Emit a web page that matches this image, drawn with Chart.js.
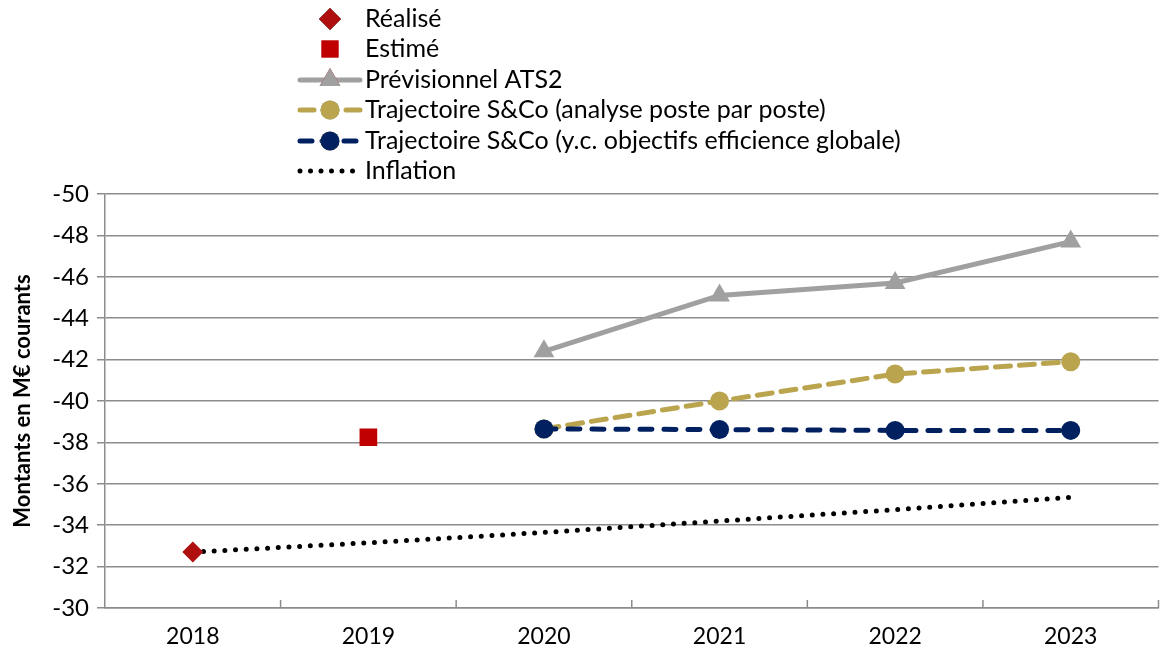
<!DOCTYPE html>
<html>
<head>
<meta charset="utf-8">
<script src="https://cdn.jsdelivr.net/npm/chart.js@4"></script>
<style>
  html, body { margin: 0; padding: 0; background: #fff; }
  #wrap { width: 1171px; height: 657px; }
</style>
</head>
<body>
<div id="wrap"><canvas id="chart" width="1171" height="657"></canvas></div>
<script>
const years = ['2018', '2019', '2020', '2021', '2022', '2023'];
const realise = [-32.7, null, null, null, null, null];
const estime = [null, -38.25, null, null, null, null];
const previsionnel = [null, null, -42.4, -45.1, -45.7, -47.7];
const trajPoste = [null, null, -38.65, -40.0, -41.3, -41.9];
const trajGlobale = [null, null, -38.65, -38.62, -38.58, -38.58];
const inflation = [-32.7, -33.15, -33.65, -34.2, -34.75, -35.35];
const yTicks = [-50, -48, -46, -44, -42, -40, -38, -36, -34, -32, -30];

const FONT = 'Lato, "Open Sans", sans-serif';
const GRID = '#8c8c8c';

// Legend drawn above the plot, styles taken from the datasets
const legendPlugin = {
    id: 'customLegend',
    afterDraw(chart) {
        const ctx = chart.ctx;
        const rows = [19, 49, 80, 110, 141, 171];
        const lx0 = 300, lx1 = 360, textX = 365;
        chart.data.datasets.forEach((ds) => {
            const y = rows[ds.legendRow];
            ctx.save();
            if (ds.showLine !== false) {
                ctx.beginPath();
                ctx.strokeStyle = ds.borderColor;
                ctx.lineWidth = ds.borderWidth;
                ctx.lineCap = ds.borderCapStyle || 'round';
                ctx.setLineDash(ds.legendDash || []);
                ctx.moveTo(lx0, y);
                ctx.lineTo(lx1, y);
                ctx.stroke();
            }
            ctx.restore();
            if (ds.pointRadius > 0) {
                Chart.helpers.drawPoint(ctx, {
                    pointStyle: ds.pointStyle,
                    radius: ds.legendRadius || ds.pointRadius,
                    borderWidth: 0,
                    rotation: 0
                }, (lx0 + lx1) / 2, y);
                ctx.fillStyle = ds.backgroundColor;
                ctx.fill();
            }
            ctx.save();
            ctx.fillStyle = '#000';
            ctx.font = '25px ' + FONT;
            ctx.textBaseline = 'middle';
            ctx.fillText(ds.label, textX, y);
            ctx.restore();
        });
    }
};

// Small x tick marks pointing up into the plot, between categories
const xTickPlugin = {
    id: 'xTicksInside',
    afterDatasetsDraw(chart) {
        const x = chart.scales.x;
        const ctx = chart.ctx;
        const bottom = chart.chartArea.bottom;
        const step = x.getPixelForValue(1) - x.getPixelForValue(0);
        ctx.save();
        ctx.strokeStyle = GRID;
        ctx.lineWidth = 1.5;
        for (let i = 0; i < years.length; i++) {
            const px = x.getPixelForValue(i) + step / 2;
            ctx.beginPath();
            ctx.moveTo(px, bottom);
            ctx.lineTo(px, bottom - 8);
            ctx.stroke();
        }
        ctx.restore();
    }
};

const ctx = document.getElementById('chart').getContext('2d');
new Chart(ctx, {
    type: 'line',
    data: {
        labels: years,
        datasets: [
            {
                label: 'Réalisé',
                legendRow: 0,
                data: realise,
                showLine: false,
                pointStyle: 'rectRot',
                pointRadius: 10.5,
                legendRadius: 11,
                backgroundColor: '#B00F0F',
                borderColor: '#B00F0F',
                borderWidth: 0,
                order: 0
            },
            {
                label: 'Estimé',
                legendRow: 1,
                data: estime,
                showLine: false,
                pointStyle: 'rect',
                pointRadius: 12.5,
                legendRadius: 12,
                backgroundColor: '#C00000',
                borderColor: '#C00000',
                borderWidth: 0,
                order: 1
            },
            {
                label: 'Prévisionnel ATS2',
                legendRow: 2,
                data: previsionnel,
                pointStyle: 'triangle',
                pointRadius: 12,
                backgroundColor: '#A0A0A0',
                borderColor: '#A0A0A0',
                borderWidth: 5,
                pointBorderWidth: 0,
                order: 4
            },
            {
                label: 'Trajectoire S&Co (analyse poste par poste)',
                legendRow: 3,
                data: trajPoste,
                pointStyle: 'circle',
                pointRadius: 9.5,
                backgroundColor: '#BAA54E',
                borderColor: '#BAA54E',
                borderWidth: 5,
                borderDash: [15, 9],
                legendDash: [14, 9],
                borderCapStyle: 'round',
                pointBorderWidth: 0,
                order: 3
            },
            {
                label: 'Trajectoire S&Co (y.c. objectifs efficience globale)',
                legendRow: 4,
                data: trajGlobale,
                pointStyle: 'circle',
                pointRadius: 9.5,
                backgroundColor: '#002060',
                borderColor: '#002060',
                borderWidth: 5,
                borderDash: [12, 12],
                legendDash: [12, 10],
                borderCapStyle: 'round',
                pointBorderWidth: 0,
                order: 2
            },
            {
                label: 'Inflation',
                legendRow: 5,
                data: inflation,
                pointRadius: 0,
                backgroundColor: '#000',
                borderColor: '#000',
                borderWidth: 5,
                borderDash: [0, 10.7],
                legendDash: [0, 10.5],
                borderCapStyle: 'round',
                order: 5
            }
        ]
    },
    options: {
        responsive: false,
        animation: false,
        spanGaps: true,
        layout: { padding: { top: 194, right: 6, left: 10, bottom: 0 } },
        plugins: {
            legend: { display: false },
            tooltip: { enabled: false }
        },
        scales: {
            x: {
                offset: true,
                grid: { display: false, drawTicks: false },
                border: { display: true, color: GRID, width: 1.5 },
                ticks: {
                    color: '#000',
                    font: { family: FONT, size: 23 },
                    padding: 15
                },
                afterFit(scale) { scale.height = 49; }
            },
            y: {
                reverse: true,
                min: -50,
                max: -30,
                afterBuildTicks(scale) { scale.ticks = yTicks.map(v => ({ value: v })); },
                grid: { color: GRID, lineWidth: 1.5, tickLength: 8 },
                border: { display: true, color: GRID, width: 1.5 },
                ticks: {
                    color: '#000',
                    font: { family: FONT, size: 24 },
                    padding: 8
                },
                title: {
                    display: true,
                    text: 'Montants en M€ courants',
                    color: '#000',
                    font: { family: FONT, size: 22, weight: 'bold' },
                    padding: { top: 0, bottom: 4 }
                },
                afterFit(scale) { scale.width = 95; }
            }
        }
    },
    plugins: [legendPlugin, xTickPlugin]
});
</script>
</body>
</html>
